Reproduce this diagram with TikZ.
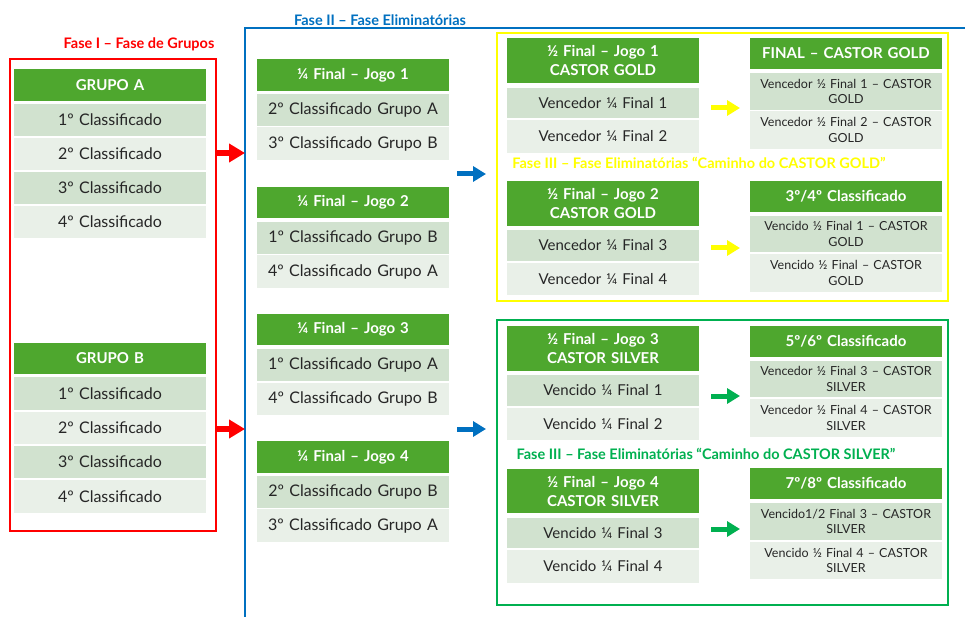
\documentclass[tikz,border=0pt]{standalone}
\usepackage{fontspec}
\setmainfont{Lato}
\usetikzlibrary{arrows.meta}
\definecolor{hdrgreen}{HTML}{4EA72E}
\definecolor{rowdark}{HTML}{D1E2CF}
\definecolor{rowlight}{HTML}{E9F0E8}
\definecolor{txtdark}{HTML}{262626}
\definecolor{phred}{HTML}{FF0000}
\definecolor{phblue}{HTML}{0070C0}
\definecolor{phyellow}{HTML}{FFFF00}
\definecolor{phgreen}{HTML}{00B050}
\tikzset{
  hdr/.style={fill=hdrgreen, text=white, font=\bfseries\fontsize{15}{19}\selectfont},
  dk/.style={fill=rowdark, text=txtdark, font=\fontsize{16}{18}\selectfont},
  lt/.style={fill=rowlight, text=txtdark, font=\fontsize{16}{18}\selectfont},
  mdk/.style={fill=rowdark, text=txtdark, font=\fontsize{15}{17}\selectfont},
  mlt/.style={fill=rowlight, text=txtdark, font=\fontsize{15}{17}\selectfont},
  sdk/.style={fill=rowdark, text=txtdark, font=\fontsize{12.5}{15.5}\selectfont},
  slt/.style={fill=rowlight, text=txtdark, font=\fontsize{12.5}{15.5}\selectfont},
  phase/.style={font=\bfseries\fontsize{14.5}{16}\selectfont, inner sep=0pt},
  frame/.style={line width=2.5pt},
  blockarrow/.style={line width=5pt, -{Triangle[length=13pt,width=15pt]}},
}
\newcommand\cellbox[7]{%
  \node[#6, inner sep=0pt, align=center, text width={(#4-#2-4)*1pt},
        minimum width={(#4-#2)*1pt}, minimum height={(#5-#3)*1pt}]
    (#1) at ({(#2+#4)/2},{(#3+#5)/2}) {#7};}
\begin{document}
\begin{tikzpicture}[x=1pt,y=-1pt]
\useasboundingbox (0,0) rectangle (965,617);
\fill[white] (0,0) rectangle (965,617);

% ---------- Fase I ----------
\node[phase, text=phred] (t1) at (139,44) {Fase I – Fase de Grupos};
\draw[frame, phred] (10,59) rectangle (216,531);
\cellbox{ga}{14}{69}{206}{101}{hdr}{GRUPO A}
\cellbox{ga1}{14}{104}{206}{136}{dk}{1º Classificado}
\cellbox{ga2}{14}{138}{206}{170}{lt}{2º Classificado}
\cellbox{ga3}{14}{172}{206}{204}{dk}{3º Classificado}
\cellbox{ga4}{14}{206}{206}{238}{lt}{4º Classificado}
\cellbox{gb}{14}{343}{206}{374}{hdr}{GRUPO B}
\cellbox{gb1}{14}{377}{206}{410}{dk}{1º Classificado}
\cellbox{gb2}{14}{412}{206}{444}{lt}{2º Classificado}
\cellbox{gb3}{14}{446}{206}{478}{dk}{3º Classificado}
\cellbox{gb4}{14}{480}{206}{513}{lt}{4º Classificado}

% ---------- Fase II ----------
\node[phase, text=phblue] (t2) at (380,20) {Fase II – Fase Eliminatórias};
\draw[frame, phblue] (965,28) -- (245,28) -- (245,617);
\cellbox{q1}{257}{59}{449}{91}{hdr}{¼ Final – Jogo 1}
\cellbox{q1a}{257}{94}{449}{126}{dk}{2º Classificado Grupo A}
\cellbox{q1b}{257}{127}{449}{160}{lt}{3º Classificado Grupo B}
\cellbox{q2}{257}{187}{449}{218}{hdr}{¼ Final – Jogo 2}
\cellbox{q2a}{257}{222}{449}{254}{dk}{1º Classificado Grupo B}
\cellbox{q2b}{257}{255}{449}{288}{lt}{4º Classificado Grupo A}
\cellbox{q3}{257}{314}{449}{345}{hdr}{¼ Final – Jogo 3}
\cellbox{q3a}{257}{349}{449}{381}{dk}{1º Classificado Grupo A}
\cellbox{q3b}{257}{383}{449}{415}{lt}{4º Classificado Grupo B}
\cellbox{q4}{257}{441}{449}{473}{hdr}{¼ Final – Jogo 4}
\cellbox{q4a}{257}{476}{449}{508}{dk}{2º Classificado Grupo B}
\cellbox{q4b}{257}{509}{449}{542}{lt}{3º Classificado Grupo A}

% ---------- Fase III GOLD ----------
\draw[frame, phyellow] (497,33) rectangle (948,301);
\cellbox{s1}{507}{38}{699}{83}{hdr}{½ Final – Jogo 1\\CASTOR GOLD}
\cellbox{s1a}{507}{88}{699}{118}{mdk}{Vencedor ¼ Final 1}
\cellbox{s1b}{507}{120}{699}{153}{mlt}{Vencedor ¼ Final 2}
\cellbox{fg}{750}{38}{942}{69}{hdr}{FINAL – CASTOR GOLD}
\cellbox{fga}{750}{73}{942}{110}{sdk}{Vencedor ½ Final 1 – CASTOR\\GOLD}
\cellbox{fgb}{750}{111}{942}{149}{slt}{Vencedor ½ Final 2 – CASTOR\\GOLD}
\node[phase, text=phyellow] (t3) at (699,163) {Fase III – Fase Eliminatórias “Caminho do CASTOR GOLD”};
\cellbox{s2}{507}{181}{699}{226}{hdr}{½ Final – Jogo 2\\CASTOR GOLD}
\cellbox{s2a}{507}{230}{699}{261}{mdk}{Vencedor ¼ Final 3}
\cellbox{s2b}{507}{263}{699}{295}{mlt}{Vencedor ¼ Final 4}
\cellbox{c34}{750}{181}{942}{212}{hdr}{3º/4º Classificado}
\cellbox{c34a}{750}{216}{942}{252}{sdk}{Vencido ½ Final 1 – CASTOR\\GOLD}
\cellbox{c34b}{750}{254}{942}{292}{slt}{Vencido ½ Final – CASTOR\\GOLD}

% ---------- Fase III SILVER ----------
\draw[frame, phgreen] (497,320) rectangle (948,605);
\cellbox{s3}{507}{326}{699}{371}{hdr}{½ Final – Jogo 3\\CASTOR SILVER}
\cellbox{s3a}{507}{375}{699}{406}{mdk}{Vencido ¼ Final 1}
\cellbox{s3b}{507}{408}{699}{440}{mlt}{Vencido ¼ Final 2}
\cellbox{c56}{750}{326}{942}{357}{hdr}{5º/6º Classificado}
\cellbox{c56a}{750}{361}{942}{397}{sdk}{Vencedor ½ Final 3 – CASTOR\\SILVER}
\cellbox{c56b}{750}{399}{942}{437}{slt}{Vencedor ½ Final 4 – CASTOR\\SILVER}
\node[phase, text=phgreen] (t4) at (706,454) {Fase III – Fase Eliminatórias “Caminho do CASTOR SILVER”};
\cellbox{s4}{507}{469}{699}{513}{hdr}{½ Final – Jogo 4\\CASTOR SILVER}
\cellbox{s4a}{507}{518}{699}{548}{mdk}{Vencido ¼ Final 3}
\cellbox{s4b}{507}{550}{699}{583}{mlt}{Vencido ¼ Final 4}
\cellbox{c78}{750}{468}{942}{499}{hdr}{7º/8º Classificado}
\cellbox{c78a}{750}{503}{942}{540}{sdk}{Vencido1/2 Final 3 – CASTOR\\SILVER}
\cellbox{c78b}{750}{542}{942}{579}{slt}{Vencido ½ Final 4 – CASTOR\\SILVER}

% ---------- arrows ----------
\coordinate (ra1) at (216,153); \coordinate (rb1) at (245,153);
\coordinate (ra2) at (216,429); \coordinate (rb2) at (245,429);
\coordinate (ba1) at (457,174); \coordinate (bb1) at (486,174);
\coordinate (ba2) at (457,429); \coordinate (bb2) at (486,429);
\coordinate (ya1) at (711,108); \coordinate (yb1) at (740,108);
\coordinate (ya2) at (711,248); \coordinate (yb2) at (740,248);
\coordinate (ga1c) at (711,396); \coordinate (gb1c) at (740,396);
\coordinate (ga2c) at (711,529); \coordinate (gb2c) at (740,529);
\draw[blockarrow, phred, line width=6pt, -{Triangle[length=16pt,width=18pt]}] (ra1) -- (rb1);
\draw[blockarrow, phred, line width=6pt, -{Triangle[length=16pt,width=18pt]}] (ra2) -- (rb2);
\draw[blockarrow, phblue] (ba1) -- (bb1);
\draw[blockarrow, phblue] (ba2) -- (bb2);
\draw[blockarrow, phyellow] (ya1) -- (yb1);
\draw[blockarrow, phyellow] (ya2) -- (yb2);
\draw[blockarrow, phgreen] (ga1c) -- (gb1c);
\draw[blockarrow, phgreen] (ga2c) -- (gb2c);
\end{tikzpicture}
\end{document}
